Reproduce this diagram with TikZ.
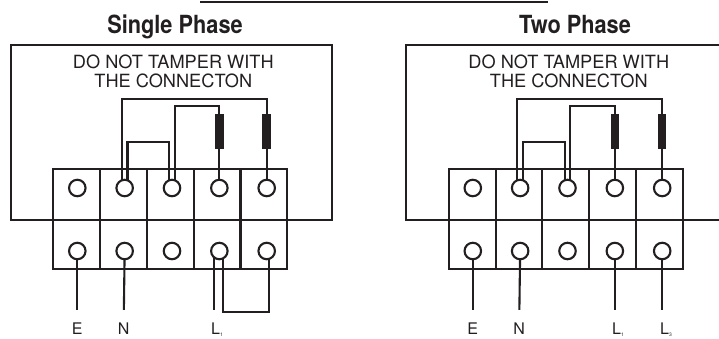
\documentclass[tikz,border=0pt]{standalone}
\usepackage{fontspec}
\setmainfont{TeX Gyre Heros}
\newfontfamily\headfont[FakeStretch=0.87]{TeX Gyre Heros}
\definecolor{ink}{HTML}{231F20}
\usetikzlibrary{positioning}
\tikzset{x=1pt, y=-1pt,
	cell/.style={rectangle, draw, minimum width=46.8pt, inner sep=0pt, outer sep=0pt},
	screw/.style={circle, draw, minimum size=16.5pt, inner sep=0pt, outer sep=0pt},
	coil/.style={rectangle, fill=ink, minimum width=8.5pt, minimum height=35pt, inner sep=0pt, outer sep=0pt},
	head/.style={font=\headfont\bfseries\fontsize{25}{25}\selectfont, anchor=base},
	warning/.style={font=\fontsize{18.2}{19.3}\selectfont, align=center},
	terminal/.style={font=\fontsize{16}{16}\selectfont, anchor=base, inner sep=0pt, text height=23pt, text depth=0pt}}
\newcommand{\tinysub}[1]{\raisebox{-2.5pt}{\fontsize{5}{5}\selectfont #1}}

\begin{document}
\begin{tikzpicture}[line width=2.1pt, color=ink, text=ink]
	\useasboundingbox (0,0) rectangle (719,338);
	\coordinate (Rule L) at (200,2);
	\coordinate (Rule R) at (548,2);
	\draw[line width=1.5pt] (Rule L) -- (Rule R);
	\node[head] (Single) at (175,33.3) {Single Phase};
	\node[head] (Two) at (575,33.3) {Two Phase};
	% covers
	\node[rectangle, draw, minimum width=321pt, minimum height=175pt, outer sep=0pt] (Cover) at (171.5,132.5) {};
	\coordinate (Cover TR) at (719,45);
	\coordinate (Cover BL) at (406,220);
	\coordinate (Cover BR) at (719,220);
	\draw (Cover TR) -| (Cover BL) -- (Cover BR);
	% both terminal blocks
	\foreach \p/\dx in {S/0, T/395.5} {
		\node[warning] (\p Note) at ({\dx+173.3},71.5) {DO NOT TAMPER WITH\\ THE CONNECTON};
		\foreach \i in {1,...,5} {
			\node[cell, minimum height=51pt] (\p Up\i) at ({\dx+76.7+46.8*(\i-1)},194.5) {};
			\node[cell, minimum height=49pt] (\p Lo\i) at ({\dx+76.7+46.8*(\i-1)},244.5) {};
			\node[screw] (\p A\i) at ({\dx+77.3+47.35*(\i-1)},188) {};
			\node[screw] (\p B\i) at ({\dx+77.3+47.35*(\i-1)},251) {};
		}
		\node[coil, above=31pt of \p A4] (\p Ra) {};
		\node[coil, above=31pt of \p A5] (\p Rb) {};
		\coordinate[above=7.5pt of \p Ra] (\p Ta);
		\coordinate[above=15pt of \p Rb] (\p Tb);
		\coordinate (\p Jump) at (\p A3.110 |- 0,142.3);
		\draw (\p A2.110) |- (\p Tb) -- (\p Rb) -- (\p A5);
		\draw (\p A3.70) |- (\p Ta) -- (\p Ra) -- (\p A4);
		\draw (\p A2.70) |- (\p Jump) -- (\p A3.110);
		\node[terminal] (\p E) at ({\dx+77.3},334) {E};
		\node[terminal] (\p N) at ({\dx+123.7},334) {N};
		\draw (\p B1) -- (\p E);
		\draw (\p B2) -- (\p N);
	}
	% line side
	\node[terminal] (SL1) at (217,334) {L\tinysub{1}};
	\coordinate (SLink) at (245,312);
	\draw (SB4.229) -- (SB4.229 |- SL1.north);
	\draw (SB4.298) |- (SLink) -| (SB5.288);
	\node[terminal] (TL1) at (618,334) {L\tinysub{1}};
	\node[terminal] (TL3) at (666,334) {L\tinysub{3}};
	\draw (TB4) -- (TB4 |- TL1.north);
	\draw (TB5) -- (TB5 |- TL3.north);
\end{tikzpicture}
\end{document}
